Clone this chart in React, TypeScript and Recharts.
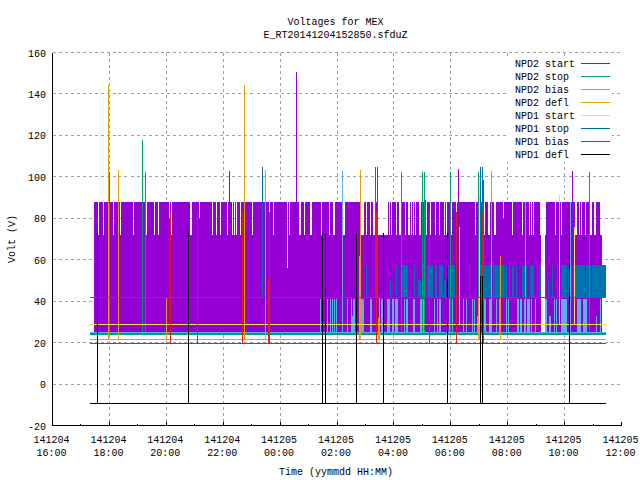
import React from "react";
import { ComposedChart, Area, Line, XAxis, YAxis, CartesianGrid, Legend } from "recharts";

const FONT = '"Liberation Mono", monospace';
const hourTicks = [16,17,18,19,20,21,22,23,24,25,26,27,28,29,30,31,32,33,34,35,36];
const hourLabels: Record<number,[string,string]> = {
  16:["141204","16:00"],18:["141204","18:00"],20:["141204","20:00"],22:["141204","22:00"],
  24:["141205","00:00"],26:["141205","02:00"],28:["141205","04:00"],30:["141205","06:00"],
  32:["141205","08:00"],34:["141205","10:00"],36:["141205","12:00"],
};
const voltTicks = [-20,0,20,40,60,80,100,120,140,160];
const gridHours = [18,20,22,24,26,28,30,32,34];

const lineStart = 17.32, lineEnd = 35.46;

// NPD2 start band: [gap start hour, gap end hour, lowest level of the gap]
const purpleGaps: [number,number,number][] = [
[17.599,17.634,72],[17.775,17.810,72],[18.127,18.162,72],[18.373,18.408,72],[18.829,18.865,72],[19.286,19.322,72],
[19.568,19.603,72],[19.708,19.743,72],[20.095,20.130,80],[20.165,20.200,72],[20.833,20.903,72],[21.149,21.184,80],
[21.606,21.641,72],[21.747,21.782,72],[21.887,21.922,72],[22.134,22.169,72],[22.309,22.344,72],[22.379,22.414,72],
[22.450,22.485,72],[22.590,22.625,72],[23.012,23.047,72],[23.610,23.645,72],[23.750,23.786,72],[24.242,24.278,56],
[24.313,24.348,72],[24.664,24.735,72],[24.840,24.875,72],[25.051,25.121,72],[25.437,25.473,72],[25.719,25.754,72],
[25.859,25.930,72],[26.176,26.281,72],[26.843,26.949,72],[27.019,27.054,72],[27.160,27.195,72],[27.265,27.335,72],
[27.441,27.792,72],[27.828,27.863,72],[27.898,27.933,72],[28.074,28.109,72],[28.179,28.285,72],[28.390,28.425,72],
[28.495,28.566,72],[28.601,28.636,72],[28.671,28.706,72],[28.742,28.777,72],[28.882,28.952,72],[29.128,29.164,72],
[29.269,29.304,72],[29.445,29.480,72],[29.585,29.620,72],[29.761,29.796,72],[29.831,29.866,72],[30.007,30.042,72],
[30.183,30.218,72],[30.850,30.885,72],[30.956,31.026,72],[31.167,31.202,72],[31.307,31.377,72],[31.518,31.588,72],
[31.835,31.870,80],[32.151,32.186,72],[32.502,32.537,72],[32.607,32.643,72],[32.749,32.784,72],[32.819,32.854,72],
[32.889,32.924,72],[33.135,33.170,72],[33.170,33.311,24.6],[33.311,33.346,72],[33.662,33.697,72],[33.873,33.908,72],
[34.365,34.435,72],[34.506,34.541,72],[34.576,34.611,72],[34.717,34.752,72],[34.893,34.963,72],[35.033,35.104,72],
];

// NPD2 bias blocks: [start hour, end hour, top volt]
const skyBlocks: [number,number,number][] = [
[25.402,25.437,41],[25.649,25.684,41],[25.754,25.789,41],[25.824,25.859,41],[25.894,25.930,41],[25.965,26.000,41],
[26.351,26.387,41],[26.492,26.527,41],[26.527,26.562,33],[26.562,26.633,41],[26.843,26.949,41],[27.160,27.230,41],
[27.476,27.511,41],[27.546,27.617,41],[27.757,27.863,41],[27.933,28.004,41],[28.039,28.144,41],[28.249,28.285,41],
[28.355,28.390,41],[28.425,28.495,41],[28.671,28.742,41],[28.917,29.093,41],[29.410,29.445,41],[29.515,29.550,41],
[29.585,29.656,41],[29.937,29.972,41],[30.042,30.077,41],[30.183,30.218,41],[30.253,30.288,41],[30.429,30.464,41],
[30.534,30.569,41],[30.745,30.780,41],[30.815,30.850,41],[30.921,30.991,33],[31.167,31.237,41],[31.342,31.448,41],
[31.588,31.623,41],[31.694,31.729,41],[31.940,31.975,41],[32.010,32.045,41],[32.326,32.397,41],[32.432,32.502,41],
[32.572,32.643,41],[32.678,32.784,41],[32.819,32.854,41],[32.959,32.994,41],[33.311,33.381,41],[33.451,33.522,33],
[33.627,33.662,41],[33.697,33.733,41],[33.873,34.084,41],[34.435,34.576,41],[34.646,34.787,41],[35.104,35.139,33],
[35.244,35.279,41],
];

// NPD1 stop blocks: [start hour, end hour, top volt]
const blueBlocks: [number,number,number][] = [
[27.019,27.054,57.4],[27.863,27.898,50],[28.074,28.109,57.4],[28.249,28.495,57.4],[28.706,28.742,57.4],[28.847,28.952,50],
[29.023,29.058,57.4],[29.163,29.374,57.4],[29.445,29.515,57.4],[29.585,29.726,57.4],[29.761,29.831,50],[29.866,29.937,57.4],
[30.007,30.148,57.4],[30.640,30.675,57.4],[30.956,31.413,57.4],[31.483,31.905,57.4],[31.940,31.975,57.4],[32.045,32.080,57.4],
[32.151,32.221,57.4],[32.291,32.326,57.4],[32.502,32.678,57.4],[32.784,32.924,57.4],[33.030,33.065,57.4],[33.100,33.170,57.4],
[33.311,33.346,57.4],[33.416,33.451,50],[33.557,33.592,57.4],[33.733,33.768,57.4],[33.873,34.084,57.4],[34.119,34.330,57.4],
[34.365,34.717,57.4],[34.752,34.928,57.4],[34.963,35.451,57.4],
];

// NPD2 stop sits in a narrow strip rather than on one level
const greenBlocks: [number,number,number][] = [[17.32,35.46,24.65]];
const greenLow = 23.7;

// spikes: hour and peak volt of each series, with its resting level
const npd2StartBase = 24.6;
const npd2StartHours = [22.221,24.576,30.270,34.277];
const npd2StartPeaks = [103,150.6,104,103];
const npd2StopBase = 24.2;
const npd2StopHours = [18.003,19.163,19.269,28.267,29.005,29.075,29.989,30.973,34.875];
const npd2StopPeaks = [102.3,117.8,102.3,102.3,102.3,102.3,102.3,102.3,102.3];
const npd2BiasBase = 25;
const npd2BiasHours = [26.193,31.430,32.625,34.207];
const npd2BiasPeaks = [103,103,88,88];
const npd2DeflBase = 21.5;
const npd2DeflHours = [17.968,18.320,20.007,22.749,23.487,26.791,26.826,27.459,27.494,30.973,31.009,31.747];
const npd2DeflPeaks = [144.5,103.4,41.6,144.5,103.4,62,103.4,32,41.6,41.6,41.6,62];
const npd1StartBase = 28.7;
const npd1StartHours = [30.306,31.009,33.821,34.348];
const npd1StartPeaks = [75.8,91,91,75.8];
const npd1StopBase = 41.8;
const npd1StopHours = [23.381,27.353,27.423,29.111,31.044,31.114];
const npd1StopPeaks = [104.8,104.8,104.8,89,104.8,104.8];
const npd1BiasBase = 19.6;
const npd1BiasHours = [20.148,21.097,22.678,23.592,23.627,27.388,29.251,30.200,31.114,31.149];
const npd1BiasPeaks = [83,83,83,51,83,83,83,83,83,98.5];
const npd1DeflBase = -9.4;
const npd1DeflHours = [17.582,20.780,25.490,25.596,26.685,27.634,29.884,31.044,31.114,34.172];
const npd1DeflPeaks = [72.9,72.9,72.9,72.9,72.9,72.9,72.9,52,52,72.9];

const spikeRows = (base: number, hours: number[], peaks: number[]) => {
  const rows = [{ t: lineStart, v: base }];
  hours.forEach((t, i) => { rows.push({ t, v: base }, { t, v: peaks[i] }, { t, v: base }); });
  rows.push({ t: lineEnd, v: base });
  return rows;
};
const purpleLow = 24.6, purpleTop = 87.9;
const purpleRows: { t: number; band: [number, number] }[] = [{ t: 17.46, band: [purpleLow, purpleTop] }];
purpleGaps.forEach(([a, b, floor]) => {
  purpleRows.push({ t: a, band: [purpleLow, floor] }, { t: b, band: [purpleLow, purpleTop] });
});
purpleRows.push({ t: 35.244, band: [purpleLow, 72] }, { t: 35.314, band: [purpleLow, 72] });

const blockRows = (blocks: [number,number,number][], low: number) => {
  const rows: { t: number; band: [number, number] }[] = [];
  blocks.forEach(([a, b, top]) => {
    rows.push({ t: a, band: [low, top] }, { t: b, band: [low, low] });
  });
  return rows;
};

const series = [
  { name: "NPD2 start", color: "#9400d3", rows: spikeRows(npd2StartBase, npd2StartHours, npd2StartPeaks) },
  { name: "NPD2 stop", color: "#009e73", rows: spikeRows(npd2StopBase, npd2StopHours, npd2StopPeaks) },
  { name: "NPD2 bias", color: "#56b4e9", rows: spikeRows(npd2BiasBase, npd2BiasHours, npd2BiasPeaks) },
  { name: "NPD2 defl", color: "#e69f00", rows: spikeRows(npd2DeflBase, npd2DeflHours, npd2DeflPeaks) },
  { name: "NPD1 start", color: "#f0e442", rows: spikeRows(npd1StartBase, npd1StartHours, npd1StartPeaks) },
  { name: "NPD1 stop", color: "#0072b2", rows: spikeRows(npd1StopBase, npd1StopHours, npd1StopPeaks) },
  { name: "NPD1 bias", color: "#e51e10", rows: spikeRows(npd1BiasBase, npd1BiasHours, npd1BiasPeaks) },
  { name: "NPD1 defl", color: "#000000", rows: spikeRows(npd1DeflBase, npd1DeflHours, npd1DeflPeaks) },
];

const txt = { fontFamily: FONT, fontSize: 10, fill: "#000" };

const BottomTick = (p: any) => {
  const h = p.payload.value as number;
  const lab = hourLabels[h];
  return (
    <g>
      <line x1={p.x} x2={p.x} y1={425.5} y2={lab ? 421.5 : 423.5} stroke="#000" />
      {lab && <text x={p.x - 1} y={443} textAnchor="middle" {...txt}>{lab[0]}</text>}
      {lab && <text x={p.x - 1} y={456} textAnchor="middle" {...txt}>{lab[1]}</text>}
    </g>
  );
};
const TopTick = (p: any) => {
  const major = !!hourLabels[p.payload.value];
  return <line x1={p.x} x2={p.x} y1={52.5} y2={major ? 56.5 : 54.5} stroke="#000" />;
};
const LeftTick = (p: any) => (
  <text x={46} y={p.y + 4} textAnchor="end" {...txt}>{p.payload.value}</text>
);
const RightTick = (p: any) => (
  <line x1={616.5} x2={621.5} y1={p.y} y2={p.y} stroke="#000" />
);

const LegendBox = (p: any) => {
  const items = (p.payload || []).filter((e: any) => e.dataKey !== "band" && e.value !== "band");
  return (
    <div style={{ width: 105, height: 105, background: "#fff", position: "relative" }}>
      <svg width={105} height={105} style={{ display: "block", shapeRendering: "crispEdges" }}>
        {items.map((e: any, i: number) => (
          <g key={e.value}>
            <text x={8} y={10 + i * 13} {...txt}>{e.value}</text>
            <line x1={74} x2={103} y1={6.5 + i * 13} y2={6.5 + i * 13} stroke={e.color} />
          </g>
        ))}
      </svg>
    </div>
  );
};

export default function App() {
  return (
    <div style={{ position: "absolute", left: 0, top: 0, width: 640, height: 480, background: "#fff" }}>
      <ComposedChart
        width={640}
        height={480}
        margin={{ top: 52.5, right: 18.5, bottom: 0, left: 0 }}
        style={{ shapeRendering: "crispEdges" }}
      >
        <CartesianGrid stroke="#a0a0a0" strokeDasharray="3 3" horizontalValues={voltTicks} verticalValues={gridHours} />
        <XAxis dataKey="t" type="number" domain={[16, 36]} ticks={hourTicks} interval={0} height={54.5}
          tick={<BottomTick />} tickLine={false} axisLine={{ stroke: "#000" }} allowDuplicatedCategory />
        <XAxis xAxisId="top" orientation="top" dataKey="t" type="number" domain={[16, 36]} ticks={hourTicks} interval={0} height={0}
          tick={<TopTick />} tickLine={false} axisLine={{ stroke: "#000" }} allowDuplicatedCategory />
        <YAxis type="number" domain={[-20, 160]} ticks={voltTicks} interval={0} width={52.5}
          tick={<LeftTick />} tickLine={false} axisLine={{ stroke: "#000" }} />
        <YAxis yAxisId="right" orientation="right" type="number" domain={[-20, 160]} ticks={voltTicks} interval={0} width={0}
          tick={<RightTick />} tickLine={false} axisLine={{ stroke: "#000" }} />
        <Area data={purpleRows} dataKey="band" type="stepAfter" stroke="none" fill="#9400d3" fillOpacity={1}
          isAnimationActive={false} legendType="none" dot={false} activeDot={false} zIndex={100} />
        <Area data={blockRows(greenBlocks, greenLow)} dataKey="band" type="stepAfter" stroke="none" fill="#009e73" fillOpacity={1}
          isAnimationActive={false} legendType="none" dot={false} activeDot={false} zIndex={100} />
        <Area data={blockRows(skyBlocks, 25)} dataKey="band" type="stepAfter" stroke="none" fill="#56b4e9" fillOpacity={1}
          isAnimationActive={false} legendType="none" dot={false} activeDot={false} zIndex={101} />
        <Area data={blockRows(blueBlocks, 41.8)} dataKey="band" type="stepAfter" stroke="none" fill="#0072b2" fillOpacity={1}
          isAnimationActive={false} legendType="none" dot={false} activeDot={false} zIndex={102} />
        {series.map((s) => (
          <Line key={s.name} name={s.name} data={s.rows} dataKey="v" type="linear" stroke={s.color} strokeWidth={1}
            dot={false} activeDot={false} isAnimationActive={false} legendType="line" />
        ))}
        <Legend layout="horizontal" verticalAlign="middle" align="center" content={<LegendBox />} itemSorter={null}
          wrapperStyle={{ left: 507, top: 57, width: 105, height: 105, margin: 0 }} />
        <text x={335.5} y={25} textAnchor="middle" {...txt}>Voltages for MEX</text>
        <text x={335.5} y={38} textAnchor="middle" {...txt}>E_RT20141204152850.sfduZ</text>
        <text x={336} y={475} textAnchor="middle" {...txt}>Time (yymmdd HH:MM)</text>
        <text x={15} y={239} textAnchor="middle" transform="rotate(-90 15 239)" {...txt}>Volt (V)</text>
      </ComposedChart>
    </div>
  );
}
